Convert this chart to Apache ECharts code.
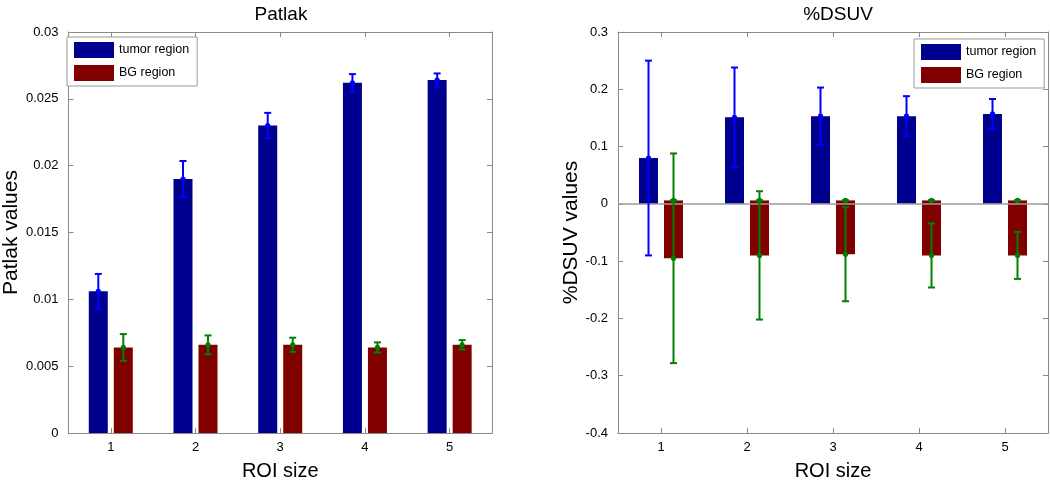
<!DOCTYPE html>
<html>
<head>
<meta charset="utf-8">
<script src="https://cdn.jsdelivr.net/npm/echarts@6/dist/echarts.min.js"></script>
<style>html,body{margin:0;padding:0;background:#fff;overflow:hidden;}#c{width:100vw;height:100vh;}</style>
</head>
<body>
<div id="c"></div>
<script>
// ---- data ----
const categories = ['1', '2', '3', '4', '5'];
// Patlak panel
const patlakTumor = [0.0106, 0.0190, 0.0230, 0.0262, 0.0264];
const patlakTumorErr = [0.0013, 0.00135, 0.00095, 0.00065, 0.0005];
const patlakBG = [0.0064, 0.0066, 0.0066, 0.0064, 0.0066];
const patlakBGErr = [0.0010, 0.0007, 0.00053, 0.00038, 0.00035];
// %DSUV panel
const dsuvTumor = [0.080, 0.151, 0.153, 0.153, 0.157];
const dsuvTumorErr = [0.170, 0.087, 0.050, 0.035, 0.026];
const dsuvBGTop = [0.006, 0.006, 0.006, 0.006, 0.006];
const dsuvBG = [-0.095, -0.090, -0.088, -0.090, -0.090];
const dsuvBGErr = [0.183, 0.112, 0.082, 0.056, 0.041];
const patlakTicks = {min: 0, max: 0.03, interval: 0.005};
const dsuvTicks = {min: -0.4, max: 0.3, interval: 0.1};

const FONT = 'Liberation Sans, Arial, Helvetica, sans-serif';
const AX = '#8a8a8a';
const TUMOR = '#00008F', BGC = '#800000', EBLUE = '#0000FF', EGREEN = '#008000';

function errData(means, errs) { return means.map((m, i) => [i, m, errs[i]]); }
function errSeries(xi, yi, data, color, off) {
  return {
    type: 'custom', xAxisIndex: xi, yAxisIndex: yi, z: 5, silent: true,
    data: data, encode: {x: 0, y: 1},
    renderItem: function (params, api) {
      const i = api.value(0), m = api.value(1), e = api.value(2);
      const c = api.coord([i, m]);
      const t = api.coord([i, m + e]);
      const b = api.coord([i, m - e]);
      const x = c[0] + off;
      const st = {stroke: color, lineWidth: 2};
      const children = [
        {type: 'line', shape: {x1: x, y1: t[1], x2: x, y2: b[1]}, style: st},
        {type: 'line', shape: {x1: x - 3.5, y1: t[1], x2: x + 3.5, y2: t[1]}, style: st},
        {type: 'line', shape: {x1: x - 3.5, y1: b[1], x2: x + 3.5, y2: b[1]}, style: st},
        {type: 'circle', shape: {cx: x, cy: c[1], r: 2.6}, style: {fill: color}}
      ];
      return {type: 'group', children: children};
    }
  };
}
function xAx(grid, pos) {
  return {
    type: 'category', gridIndex: grid, position: pos, data: categories, boundaryGap: true,
    axisLine: {show: true, onZero: false, lineStyle: {color: AX, width: 1}},
    axisTick: {show: true, inside: true, length: 5, alignWithLabel: true, lineStyle: {color: AX}},
    axisLabel: {show: pos === 'bottom', color: '#000', fontFamily: FONT, fontSize: 13, margin: 8},
    splitLine: {show: false},
    name: pos === 'bottom' ? 'ROI size' : '', nameLocation: 'middle', nameGap: 28,
    nameTextStyle: {color: '#000', fontFamily: FONT, fontSize: 20}
  };
}
function yAx(grid, pos, tk, name) {
  return {
    type: 'value', gridIndex: grid, position: pos, min: tk.min, max: tk.max, interval: tk.interval,
    axisLine: {show: true, onZero: false, lineStyle: {color: AX, width: 1}},
    axisTick: {show: true, inside: true, length: 5, lineStyle: {color: AX}},
    axisLabel: {show: pos === 'left', color: '#000', fontFamily: FONT, fontSize: 13, margin: 10},
    splitLine: {show: false},
    name: name || '', nameLocation: 'middle', nameGap: name === 'Patlak values' ? 40 : 35,
    nameTextStyle: {color: '#000', fontFamily: FONT, fontSize: 21}
  };
}
const barCommon = {type: 'bar', barWidth: 19, barGap: '31.6%', silent: true};
const legendCommon = {
  orient: 'vertical', icon: 'rect', itemWidth: 40, itemHeight: 16, itemGap: 7,
  borderColor: '#999', borderWidth: 1, backgroundColor: '#fff', padding: [5, 8, 5, 7],
  textStyle: {color: '#000', fontFamily: FONT, fontSize: 12.5}, itemStyle: {borderWidth: 0},
  data: ['tumor region', 'BG region'], selectedMode: false
};

const option = {
  animation: false,
  backgroundColor: '#fff',
  title: [
    {text: 'Patlak', left: 276, top: 0, textAlign: 'center', textStyle: {color: '#000', fontFamily: FONT, fontSize: 19, fontWeight: 'normal'}},
    {text: '%DSUV', left: 833, top: 0, textAlign: 'center', textStyle: {color: '#000', fontFamily: FONT, fontSize: 19, fontWeight: 'normal'}}
  ],
  legend: [
    Object.assign({left: 67, top: 37}, legendCommon),
    Object.assign({left: 914, top: 39}, legendCommon)
  ],
  grid: [
    {left: 61, right: 558, top: 32, bottom: 46},
    {left: 618, right: 2, top: 32, bottom: 46}
  ],
  xAxis: [xAx(0, 'bottom'), xAx(0, 'top'), xAx(1, 'bottom'), xAx(1, 'top')],
  yAxis: [
    yAx(0, 'left', patlakTicks, 'Patlak values'), yAx(0, 'right', patlakTicks),
    yAx(1, 'left', dsuvTicks, '%DSUV values'), yAx(1, 'right', dsuvTicks)
  ],
  series: [
    Object.assign({}, barCommon, {name: 'tumor region', xAxisIndex: 0, yAxisIndex: 0, data: patlakTumor, itemStyle: {color: TUMOR}}),
    Object.assign({}, barCommon, {name: 'BG region', xAxisIndex: 0, yAxisIndex: 0, data: patlakBG, itemStyle: {color: BGC}}),
    Object.assign({}, barCommon, {name: 'tumor region', xAxisIndex: 2, yAxisIndex: 2, data: dsuvTumor, itemStyle: {color: TUMOR},
      markLine: {silent: true, symbol: 'none', label: {show: false}, lineStyle: {color: '#9a9a9a', type: 'solid', width: 1.5}, data: [{yAxis: 0}]}}),
    Object.assign({}, barCommon, {name: 'BG region', xAxisIndex: 2, yAxisIndex: 2, stack: 'bg', data: dsuvBGTop, itemStyle: {color: BGC}}),
    Object.assign({}, barCommon, {name: 'BG region', xAxisIndex: 2, yAxisIndex: 2, stack: 'bg', data: dsuvBG, itemStyle: {color: BGC}}),
    errSeries(0, 0, errData(patlakTumor, patlakTumorErr), EBLUE, -12.5),
    errSeries(0, 0, errData(patlakBG, patlakBGErr), EGREEN, 12.5),
    errSeries(2, 2, errData(dsuvTumor, dsuvTumorErr), EBLUE, -12.5),
    errSeries(2, 2, errData(dsuvBGTop, [0, 0, 0, 0, 0]), EGREEN, 12.5),
    errSeries(2, 2, errData(dsuvBG, dsuvBGErr), EGREEN, 12.5)
  ]
};
const chart = echarts.init(document.getElementById('c'), null, {renderer: 'canvas'});
chart.setOption(option);
</script>
</body>
</html>
